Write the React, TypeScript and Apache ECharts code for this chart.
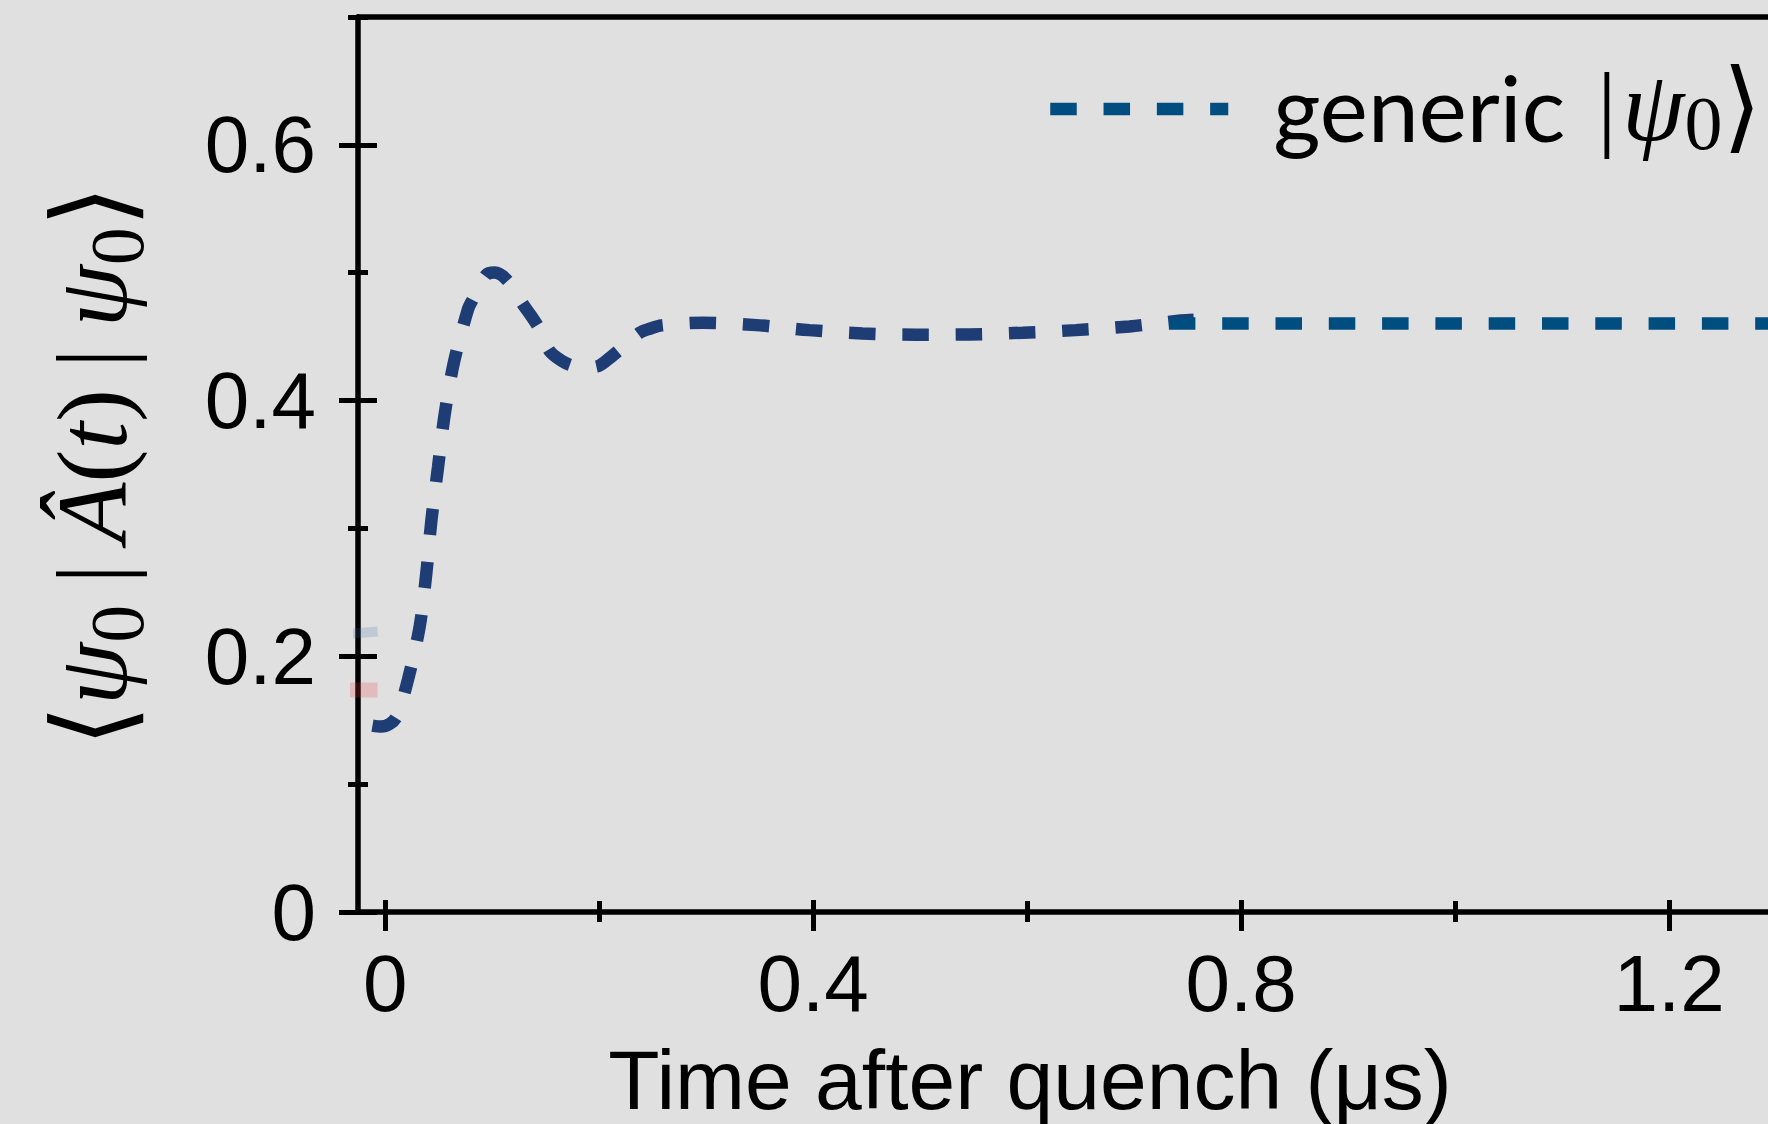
import { useEffect, useRef } from 'react';
import * as echarts from 'echarts';

// Time after the quench (μs) and expectation value of the evolving state
const evolutionTime = [
  -0.012, -0.004, 0.004, 0.0107, 0.0212, 0.0322, 0.0384, 0.0431, 0.0493, 0.0555,
  0.0642, 0.0773, 0.082, 0.0945, 0.1023, 0.1147, 0.1288, 0.1366, 0.1444, 0.1537,
  0.1656, 0.1743, 0.1865, 0.1989, 0.2077, 0.2176, 0.2379, 0.2473, 0.2582, 0.2971,
  0.3469, 0.3964, 0.4461, 0.4962, 0.546, 0.5957, 0.6455, 0.6956, 0.7438, 0.7557,
];
const evolutionValue = [
  0.1458, 0.145, 0.147, 0.1528, 0.1817, 0.2235, 0.2653, 0.3062, 0.3479, 0.3891,
  0.43, 0.4713, 0.4794, 0.4984, 0.5001, 0.4934, 0.4752, 0.466, 0.4557, 0.4387,
  0.4308, 0.4275, 0.4259, 0.4269, 0.4319, 0.4387, 0.4531, 0.4562, 0.4588, 0.4609,
  0.459, 0.4551, 0.4525, 0.4515, 0.4517, 0.4531, 0.4551, 0.458, 0.4626, 0.4632,
];

// Long-time level of the generic initial state
const plateauTime = [0.7325, 1.3];
const plateauValue = [0.4603, 0.4603];

// Faint neighbouring traces ending just left of t = 0
const blueTraceTime = [-0.04, -0.0072];
const blueTraceValue = [0.2172, 0.2194];
const redTraceTime = [-0.04, -0.0072];
const redTraceValue = [0.1736, 0.1736];

const xMajorTicks = [0, 0.4, 0.8, 1.2];
const xMinorTicks = [0.2, 0.6, 1.0];
const yMajorTicks = [0, 0.2, 0.4, 0.6];
const yMinorTicks = [0.1, 0.3, 0.5, 0.7];

const X_MIN = -0.0255;
const X_MAX = 1.3;
const Y_MIN = 0;
const Y_MAX = 0.7;

const BG = '#e0e0e0';
const NAVY = '#1e3d74';
const TEAL = '#004d80';
const SANS = "'Liberation Sans', Arial, sans-serif";
const SERIF = "'Liberation Serif', 'DejaVu Serif', serif";
const DASH = [26.5, 26.8];
const AXIS_W = 5.5;
const TICK_W = 5;

const zip = (xs: number[], ys: number[]) => xs.map((x, i) => [x, ys[i]]);
const tickFmt = (v: number) => (v === 0 ? '0' : v.toFixed(1));

export default function App() {
  const ref = useRef<HTMLDivElement>(null);

  useEffect(() => {
    document.body.style.margin = '0';
    document.body.style.background = BG;
    if (!ref.current) return;
    const chart = echarts.init(ref.current, undefined, { renderer: 'svg' });

    const box = { left: 358, right: -8, top: 17, bottom: 212, containLabel: false, outerBoundsMode: 'none' };
    const blank = { show: false };
    const axisLineOn = { show: true, onZero: false, lineStyle: { color: '#000', width: AXIS_W } };
    const axisLineOff = { show: false, onZero: false };
    const xBase = { type: 'value', min: X_MIN, max: X_MAX, splitLine: blank };
    const yBase = { type: 'value', min: Y_MIN, max: Y_MAX, splitLine: blank };
    const tickLine = { color: '#000', width: TICK_W };

    const option: any = {
      animation: false,
      backgroundColor: BG,
      grid: [box, box, box],
      xAxis: [
        {
          ...xBase,
          gridIndex: 0,
          position: 'bottom',
          axisLine: axisLineOn,
          axisTick: blank,
          axisLabel: {
            show: true,
            customValues: xMajorTicks,
            margin: 31,
            fontSize: 80,
            fontFamily: SANS,
            color: '#000',
            formatter: tickFmt,
          },
          name: 'Time after quench (μs)',
          nameLocation: 'middle',
          nameGap: 126,
          nameTextStyle: {
            fontSize: 84,
            lineHeight: 84,
            fontFamily: SANS,
            color: '#000',
            padding: [0, 74, 0, 0],
          },
        },
        { ...xBase, gridIndex: 0, position: 'top', axisLine: axisLineOn, axisTick: blank, axisLabel: blank },
        {
          ...xBase,
          gridIndex: 1,
          position: 'bottom',
          offset: -12,
          axisLine: axisLineOff,
          axisLabel: blank,
          axisTick: { show: true, customValues: xMajorTicks, length: 31, lineStyle: tickLine },
        },
        {
          ...xBase,
          gridIndex: 2,
          position: 'bottom',
          offset: -11,
          axisLine: axisLineOff,
          axisLabel: blank,
          axisTick: { show: true, customValues: xMinorTicks, length: 21, lineStyle: tickLine },
        },
      ],
      yAxis: [
        {
          ...yBase,
          gridIndex: 0,
          position: 'left',
          axisLine: axisLineOn,
          axisTick: blank,
          axisLabel: {
            show: true,
            customValues: yMajorTicks,
            margin: 42,
            fontSize: 80,
            fontFamily: SANS,
            color: '#000',
            formatter: tickFmt,
          },
        },
        { ...yBase, gridIndex: 0, position: 'right', axisLine: axisLineOn, axisTick: blank, axisLabel: blank },
        {
          ...yBase,
          gridIndex: 1,
          position: 'left',
          offset: -19,
          axisLine: axisLineOff,
          axisLabel: blank,
          axisTick: { show: true, customValues: yMajorTicks, length: 38, lineStyle: tickLine },
        },
        {
          ...yBase,
          gridIndex: 2,
          position: 'left',
          offset: -10,
          axisLine: axisLineOff,
          axisLabel: blank,
          axisTick: { show: true, customValues: yMinorTicks, length: 20, lineStyle: tickLine },
        },
      ],
      legend: {
        data: ['generic'],
        left: 1044,
        top: 56,
        padding: 0,
        itemWidth: 178,
        itemHeight: 14,
        selectedMode: false,
        itemStyle: { opacity: 0 },
        lineStyle: { color: TEAL, width: 12.5, type: DASH, cap: 'butt', opacity: 1 },
        formatter: () => '{g|generic}{bar||}{ps|ψ}{sb|0}{br|⟩}',
        textStyle: {
          color: '#000',
          padding: [0, 0, 6, 0],
          rich: {
            g: { fontFamily: "Lato, 'Noto Sans', sans-serif", fontSize: 91, lineHeight: 110, padding: [0, 32, 0, 40], color: '#000' },
            bar: { fontFamily: SERIF, fontSize: 96, lineHeight: 110, color: '#000', padding: [0, 6, 0, 0] },
            ps: { fontFamily: SERIF, fontStyle: 'italic', fontSize: 100, lineHeight: 110, color: '#000' },
            sb: { fontFamily: SERIF, fontSize: 76, lineHeight: 44, verticalAlign: 'bottom', color: '#000' },
            br: { fontFamily: SERIF, fontSize: 100, lineHeight: 110, color: '#000' },
          },
        },
      },
      graphic: [
        {
          type: 'text',
          x: 92,
          y: 466,
          rotation: Math.PI / 2,
          style: {
            text: '{br|⟨}{ps|ψ}{sb|0}{bar||}{A|Â}{rm|(}{it|t}{rm|)}{bar||}{ps|ψ}{sb|0}{br|⟩}',
            align: 'center',
            verticalAlign: 'middle',
            rich: {
              br: { fontFamily: SERIF, fontSize: 108, lineHeight: 126, fill: '#000' },
              ps: { fontFamily: SERIF, fontStyle: 'italic', fontSize: 100, lineHeight: 126, fill: '#000' },
              sb: { fontFamily: SERIF, fontSize: 76, lineHeight: 50, verticalAlign: 'bottom', fill: '#000' },
              bar: { fontFamily: SERIF, fontSize: 99, lineHeight: 126, padding: [0, 21, 0, 21], fill: '#000' },
              A: { fontFamily: SERIF, fontStyle: 'italic', fontSize: 99, lineHeight: 126, fill: '#000' },
              rm: { fontFamily: SERIF, fontSize: 99, lineHeight: 126, fill: '#000' },
              it: { fontFamily: SERIF, fontStyle: 'italic', fontSize: 99, lineHeight: 126, fill: '#000' },
            },
          },
        },
      ],
      series: [
        {
          type: 'line',
          xAxisIndex: 0,
          yAxisIndex: 0,
          data: zip(blueTraceTime, blueTraceValue),
          symbol: 'none',
          silent: true,
          lineStyle: { color: 'rgba(60,110,170,0.2)', width: 10 },
          z: 1,
        },
        {
          type: 'line',
          xAxisIndex: 0,
          yAxisIndex: 0,
          data: zip(redTraceTime, redTraceValue),
          symbol: 'none',
          silent: true,
          lineStyle: { color: 'rgba(230,60,60,0.22)', width: 15 },
          z: 1,
        },
        {
          name: 'evolution',
          type: 'line',
          xAxisIndex: 0,
          yAxisIndex: 0,
          data: zip(evolutionTime, evolutionValue),
          symbol: 'none',
          smooth: 0.3,
          silent: true,
          lineStyle: { color: NAVY, width: 12.5, type: DASH, cap: 'butt' },
          z: 2,
        },
        {
          name: 'generic',
          type: 'line',
          xAxisIndex: 0,
          yAxisIndex: 0,
          data: zip(plateauTime, plateauValue),
          symbol: 'none',
          silent: true,
          color: TEAL,
          lineStyle: { color: TEAL, width: 12.5, type: DASH, cap: 'butt' },
          z: 3,
        },
      ],
    };

    chart.setOption(option);
    return () => chart.dispose();
  }, []);

  return <div ref={ref} style={{ width: 1768, height: 1124, background: BG }} />;
}
